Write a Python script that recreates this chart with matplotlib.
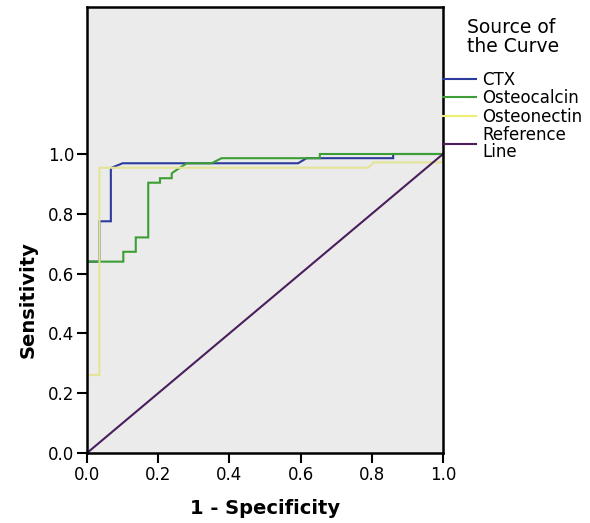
import numpy as np
import matplotlib
matplotlib.use("Agg")
import matplotlib.pyplot as plt
from matplotlib.lines import Line2D

# ROC data
ctx_fpr = [0, 0, 0.035, 0.035, 0.067, 0.067, 0.100, 0.593, 0.617, 0.86, 0.86, 1.0]
ctx_tpr = [0, 0.640, 0.640, 0.775, 0.775, 0.953, 0.969, 0.969, 0.986, 0.986, 1.0, 1.0]

osc_fpr = [0, 0, 0.102, 0.102, 0.137, 0.137, 0.172, 0.172, 0.205, 0.205, 0.238, 0.238,
           0.242, 0.280, 0.350, 0.378, 0.654, 0.654, 1.0]
osc_tpr = [0, 0.640, 0.640, 0.673, 0.673, 0.721, 0.721, 0.904, 0.904, 0.919, 0.919, 0.935,
           0.939, 0.969, 0.969, 0.986, 0.986, 1.0, 1.0]

osn_fpr = [0, 0, 0.035, 0.035, 0.790, 0.805, 1.0, 1.0]
osn_tpr = [0, 0.261, 0.261, 0.954, 0.954, 0.972, 0.972, 1.0]

ref_fpr = [0, 1]
ref_tpr = [0, 1]

series_names = ["CTX", "Osteocalcin", "Osteonectin", "Reference\nLine"]
colors = ["#2B3A9B", "#3C9E34", "#E4E496", "#4A1E5C"]
legend_colors = ["#2B3A9B", "#3C9E34", "#F0EE70", "#4A1E5C"]
ticks = [0.0, 0.2, 0.4, 0.6, 0.8, 1.0]

fig = plt.figure(figsize=(5.9, 5.23), dpi=100)
ax = fig.add_axes([87/590, 1-453/523, 356/590, 446/523])
ax.set_facecolor("#EBEBEB")

data = [(ctx_fpr, ctx_tpr), (osc_fpr, osc_tpr), (osn_fpr, osn_tpr), (ref_fpr, ref_tpr)]
order = [3, 2, 0, 1]
for i in order:
    x, y = data[i]
    ax.plot(x, y, color=colors[i], lw=1.5, solid_joinstyle="miter", zorder=2 + i * 0.1)

ax.set_xlim(0, 1)
ax.set_ylim(0, 446/299)
ax.set_xticks(ticks)
ax.set_yticks(ticks)
ax.set_xticklabels([f"{t:.1f}" for t in ticks])
ax.set_yticklabels([f"{t:.1f}" for t in ticks])
ax.tick_params(direction="out", length=7, width=1.5, labelsize=12, pad=2, colors="black")
for s in ax.spines.values():
    s.set_linewidth(1.8)
    s.set_color("black")

ax.set_xlabel("1 - Specificity", fontsize=14, fontweight="bold", labelpad=11)
ax.set_ylabel("Sensitivity", fontsize=14, fontweight="bold")
ax.yaxis.set_label_coords(-0.14, (453-300)/446)

handles = [Line2D([0], [0], color=c, lw=1.5) for c in legend_colors]
leg = ax.legend(handles, series_names, loc="upper left", bbox_to_anchor=(1.0, 0.976),
                frameon=False, title="Source of\nthe Curve", fontsize=12,
                title_fontsize=13.5, handlelength=2.0, handletextpad=0.35,
                borderaxespad=0, borderpad=0, labelspacing=0.02)
leg.get_title().set_linespacing(1.0)
for t in leg.get_texts():
    t.set_linespacing(0.9)
leg._legend_box.sep = 11

fig.savefig("out.png", dpi=100)
